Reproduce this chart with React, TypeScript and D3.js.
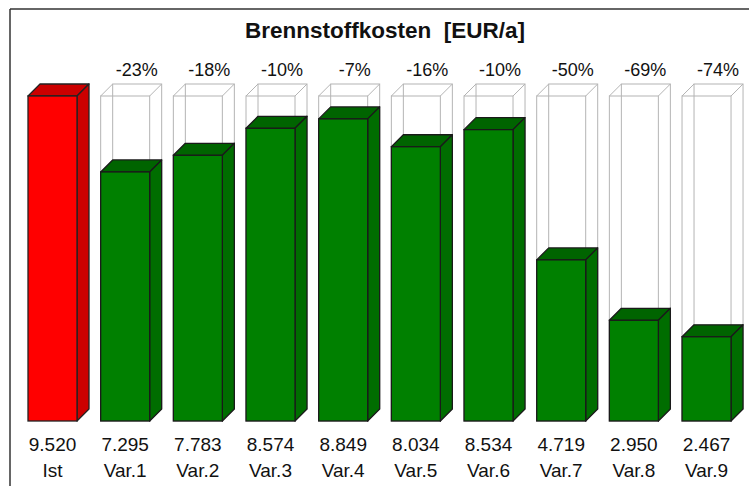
import React from "react";
import * as d3 from "d3";

const categories = ["Ist", "Var.1", "Var.2", "Var.3", "Var.4", "Var.5", "Var.6", "Var.7", "Var.8", "Var.9"];
const values = [9520, 7295, 7783, 8574, 8849, 8034, 8534, 4719, 2950, 2467];
const valueLabels = ["9.520", "7.295", "7.783", "8.574", "8.849", "8.034", "8.534", "4.719", "2.950", "2.467"];
const title = "Brennstoffkosten\u00a0\u00a0[EUR/a]";

const W = 749;
const H = 486;
const DX = 12;
const DY = 12;
const FONT = "'Liberation Sans', Arial, sans-serif";

export default function App() {
  const step = 72.67;
  const bw = 49;
  const x0 = 28;
  const x = d3
    .scaleBand<string>()
    .domain(categories)
    .range([x0, x0 + categories.length * step - (step - bw)])
    .paddingInner((step - bw) / step)
    .paddingOuter(0);
  const y = d3.scaleLinear().domain([0, values[0]]).range([421, 96]);
  const ist = values[0];
  const y0 = y(0);

  const box = (xl: number, yt: number, front: string, top: string, side: string, stroke: string, sw: number, key: string) => {
    const w = x.bandwidth();
    return (
      <g key={key}>
        <path d={`M${xl},${yt} L${xl + DX},${yt - DY} L${xl + w + DX},${yt - DY} L${xl + w},${yt} Z`} fill={top} stroke={stroke} strokeWidth={sw} strokeLinejoin="round" />
        <path d={`M${xl + w},${yt} L${xl + w + DX},${yt - DY} L${xl + w + DX},${y0 - DY} L${xl + w},${y0} Z`} fill={side} stroke={stroke} strokeWidth={sw} strokeLinejoin="round" />
        <rect x={xl} y={yt} width={w} height={y0 - yt} fill={front} stroke={stroke} strokeWidth={sw} />
      </g>
    );
  };

  const ghost = (xl: number, key: string) => {
    const w = x.bandwidth();
    const yt = y(ist);
    const c = "#b4b4b4";
    return (
      <g key={key} fill="none" stroke={c} strokeWidth={1}>
        <rect x={xl + DX} y={yt - DY} width={w} height={y0 - yt} />
        <rect x={xl} y={yt} width={w} height={y0 - yt} />
        <line x1={xl} y1={yt} x2={xl + DX} y2={yt - DY} />
        <line x1={xl + w} y1={yt} x2={xl + w + DX} y2={yt - DY} />
      </g>
    );
  };

  return (
    <svg width={W} height={H} style={{ position: "absolute", left: 0, top: 0, background: "#fff" }} fontFamily={FONT}>
      <rect x={0} y={0} width={W} height={H} fill="#fff" />
      <line x1={10} y1={9} x2={W} y2={9} stroke="#333" strokeWidth={1.5} />
      <line x1={10} y1={9} x2={10} y2={H} stroke="#333" strokeWidth={1.5} />
      <text x={385} y={38} textAnchor="middle" fontSize={22.5} fontWeight="bold" fill="#111">{title}</text>
      {categories.map((c, i) => {
        const xl = x(c)!;
        const v = values[i];
        const isIst = i === 0;
        const pct = Math.round((v / ist - 1) * 100);
        return (
          <g key={c}>
            {!isIst && ghost(xl, "g" + c)}
            {isIst
              ? box(xl, y(v), "#ff0000", "#cc0000", "#cc0000", "#222", 1.3, "b" + c)
              : box(xl, y(v), "#008000", "#006400", "#006d00", "#1a1a1a", 1.3, "b" + c)}
            {!isIst && (
              <text x={xl + 36} y={76} textAnchor="middle" fontSize={18} fill="#111">{`${pct}%`}</text>
            )}
            <text x={xl + x.bandwidth() / 2} y={451} textAnchor="middle" fontSize={19} fill="#111">{valueLabels[i]}</text>
            <text x={xl + x.bandwidth() / 2} y={477} textAnchor="middle" fontSize={19} fill="#111">{c}</text>
          </g>
        );
      })}
    </svg>
  );
}
